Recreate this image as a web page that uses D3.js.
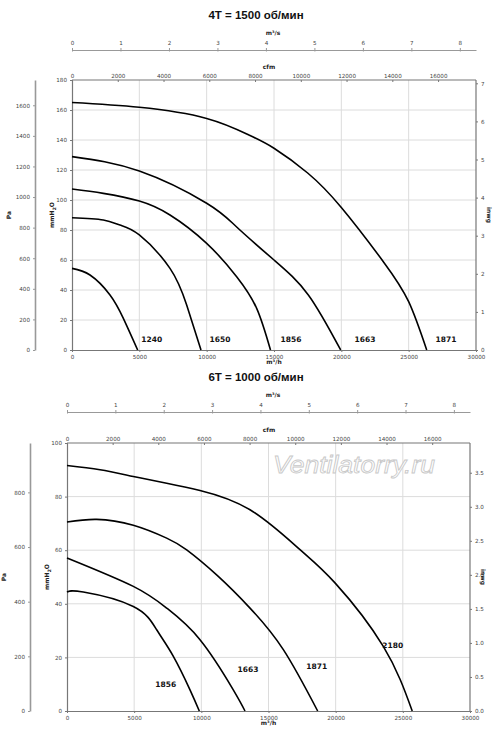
<!DOCTYPE html>
<html><head><meta charset="utf-8">
<script src="https://cdn.jsdelivr.net/npm/d3@7"></script>
<style>
html,body{margin:0;padding:0;background:#fff;}
svg{display:block;}
</style></head>
<body>
<svg id="c" width="500" height="737"></svg>
<script>
// ---------- DATA ----------
const titles = ["4T = 1500 об/мин", "6T = 1000 об/мин"];
const flowTicks = [0, 5000, 10000, 15000, 20000, 25000, 30000];
const m3sTicks = [0, 1, 2, 3, 4, 5, 6, 7, 8];
const cfmTicks = [0, 2000, 4000, 6000, 8000, 10000, 12000, 14000, 16000];

// 4T chart
const top_mmTicks = [0, 20, 40, 60, 80, 100, 120, 140, 160, 180];
const top_paTicks = [0, 200, 400, 600, 800, 1000, 1200, 1400, 1600];
const top_inwgTicks = [0, 1, 2, 3, 4, 5, 6, 7];
const top_names = ["1240", "1650", "1856", "1663", "1871"];
const top_1240 = [[0,54.4],[1337,50],[2822,36.7],[3812,21.1],[4876,0]];
const top_1650 = [[0,88.2],[2327,86.7],[3564,83.3],[5000,76.7],[7277,54.4],[8515,30],[9579,0]];
const top_1856 = [[0,107.3],[2327,104.4],[5000,99.3],[7277,90],[10000,71.1],[12228,48.9],[13713,27.8],[14740,0]];
const top_1663 = [[0,128.9],[5000,119.3],[10000,97.8],[12228,82],[15000,60],[17550,36.7],[19950,0]];
const top_1871 = [[0,165],[5000,161.8],[10000,154.4],[13220,143],[15000,134.5],[17500,118],[20000,95],[23119,58.9],[25000,32.2],[26340,0]];
const top_labelAt = [[5920,7.3],[10990,7.3],[16262,7.3],[21757,7.3],[27772,7.3]];

// 6T chart
const bot_mmTicks = [0, 20, 40, 60, 80, 100];
const bot_paTicks = [0, 200, 400, 600, 800];
const bot_inwgTicks = [0, 0.5, 1, 1.5, 2, 2.5, 3, 3.5];
const bot_names = ["1856", "1663", "1871", "2180"];
const bot_1856 = [[0,44.4],[1215,44.4],[4937,39],[6675,30.3],[7916,20.4],[9156,7.9],[9851,0]];
const bot_1663 = [[0,57.1],[4937,46.5],[7420,38.4],[9901,26.6],[12378,7.9],[13250,0]];
const bot_1871 = [[0,70.5],[2211,71.5],[4937,69.3],[7420,64.5],[8910,60.1],[11200,50.5],[13623,38.4],[16104,22.9],[18660,0]];
const bot_2180 = [[0,91.6],[2457,90],[4937,87.5],[7420,85],[9901,82.3],[13623,75.1],[17345,60.2],[19950,47.8],[23545,24.1],[25700,0]];
const bot_labelAt = [[7347,9.8],[13474,15.4],[18588,16.5],[24245,24.4]];

const PA_PER_MM = 9.80665, MM_PER_INWG = 25.4, M3H_PER_CFM = 1.69901, M3H_PER_M3S = 3600;

// ---------- DRAW ----------
const svg = d3.select("#c");
const TICKFONT = "DejaVu Sans, sans-serif";

function chart(cfg) {
  const g = svg.append("g");
  const x = d3.scaleLinear().domain([0, 30000]).range([cfg.left, cfg.right]);
  const y = d3.scaleLinear().domain([0, cfg.ymax]).range([cfg.bottom, cfg.top]);
  const yPa = d3.scaleLinear().domain([0, cfg.ymax * PA_PER_MM]).range([cfg.bottom, cfg.top]);
  const yIn = d3.scaleLinear().domain([0, cfg.ymax / MM_PER_INWG]).range([cfg.bottom, cfg.top]);
  const xCfm = d3.scaleLinear().domain([0, 30000 / M3H_PER_CFM]).range([cfg.left, cfg.right]);
  const xM3s = d3.scaleLinear().domain([0, 30000 / M3H_PER_M3S]).range([cfg.left, cfg.right]);

  // title
  g.append("text").attr("x", 256).attr("y", cfg.titleY).attr("text-anchor", "middle")
    .attr("font-family", "Liberation Sans, Arial, sans-serif").attr("font-weight", "bold")
    .attr("font-size", 11.5).attr("fill", "#111").text(cfg.title);

  // grid
  g.append("g").selectAll("line").data(flowTicks.slice(1, -1)).join("line")
    .attr("x1", d => x(d)).attr("x2", d => x(d)).attr("y1", cfg.top).attr("y2", cfg.bottom)
    .attr("stroke", "#dcdcdc").attr("stroke-width", 1);
  g.append("g").selectAll("line").data(cfg.mmTicks.slice(1, -1)).join("line")
    .attr("y1", d => y(d)).attr("y2", d => y(d)).attr("x1", cfg.left).attr("x2", cfg.right)
    .attr("stroke", "#dcdcdc").attr("stroke-width", 1);

  function styleAxis(sel, color) {
    sel.selectAll(".domain").attr("stroke", color).attr("stroke-width", 1.2);
    sel.selectAll(".tick line").attr("stroke", color);
    sel.selectAll(".tick text").attr("fill", "#444").attr("font-family", TICKFONT).attr("font-size", 5.6);
  }

  // bottom axis m3/h
  const ax = g.append("g").attr("transform", `translate(0,${cfg.bottom})`)
    .call(d3.axisBottom(x).tickValues(flowTicks).tickFormat(d3.format("d")).tickSize(2).tickSizeOuter(0));
  styleAxis(ax, "#777");
  // left axis mmH2O
  const ay = g.append("g").attr("transform", `translate(${cfg.left},0)`)
    .call(d3.axisLeft(y).tickValues(cfg.mmTicks).tickFormat(d3.format("d")).tickSize(2).tickSizeOuter(0));
  styleAxis(ay, "#777");
  // right axis inwg
  const ar = g.append("g").attr("transform", `translate(${cfg.right},0)`)
    .call(d3.axisRight(yIn).tickValues(cfg.inwgTicks).tickFormat(d3.format(cfg.inwgFmt)).tickSize(2).tickSizeOuter(0));
  styleAxis(ar, "#777");
  ar.select(".domain").attr("d", `M0,${cfg.top}V${cfg.bottom}`);
  // top axis cfm
  const at = g.append("g").attr("transform", `translate(0,${cfg.top})`)
    .call(d3.axisTop(xCfm).tickValues(cfmTicks).tickFormat(d3.format("d")).tickSize(-2).tickSizeOuter(0));
  styleAxis(at, "#777");
  at.select(".domain").attr("d", `M${cfg.left},0H${cfg.right}`);
  at.selectAll(".tick text").attr("y", -2);
  // m3/s axis
  const as = g.append("g").attr("transform", `translate(0,${cfg.m3sY})`)
    .call(d3.axisTop(xM3s).tickValues(m3sTicks).tickFormat(d3.format("d")).tickSize(2).tickSizeOuter(0));
  styleAxis(as, "#999");
  as.selectAll(".tick line").attr("y1", 1.5);
  // Pa axis
  const ap = g.append("g").attr("transform", `translate(${cfg.paX},0)`)
    .call(d3.axisLeft(yPa).tickValues(cfg.paTicks).tickFormat(d3.format("d")).tickSize(2).tickSizeOuter(0));
  styleAxis(ap, "#999");
  ap.select(".domain").attr("stroke-width", 1.6);

  // axis titles
  const lab = (xx, yy, rot) => g.append("text").attr("font-family", TICKFONT).attr("font-weight", "bold")
      .attr("font-size", 6).attr("fill", "#222").attr("text-anchor", "middle")
      .attr("transform", `translate(${xx},${yy}) rotate(${rot})`);
  const midY = (cfg.top + cfg.bottom) / 2;
  lab(cfg.paX - 24, midY, -90).text("Pa");
  const t2 = lab(cfg.left - 18, midY, -90);
  t2.append("tspan").text("mmH");
  t2.append("tspan").attr("font-size", 4.5).attr("dy", 1.5).text("2");
  t2.append("tspan").attr("dy", -1.5).text("O");
  lab(cfg.right + 11, midY, 90).text("inwg");
  lab((cfg.left + cfg.right) / 2, cfg.bottom + 14, 0).text("m³/h");
  lab(269, cfg.top - 11, 0).text("cfm");
  lab(273, cfg.m3sY - 15, 0).text("m³/s");

  // curves
  const line = d3.line().x(d => x(d[0])).y(d => y(d[1])).curve(d3.curveNatural);
  g.append("g").selectAll("path").data(cfg.series).join("path")
    .attr("d", line).attr("fill", "none").attr("stroke", "#000").attr("stroke-width", 1.6);

  g.append("g").selectAll("text").data(cfg.names).join("text")
    .attr("x", (d, i) => x(cfg.labelAt[i][0])).attr("y", (d, i) => y(cfg.labelAt[i][1]))
    .attr("dy", "0.35em").attr("text-anchor", "middle")
    .attr("font-family", TICKFONT).attr("font-weight", "bold").attr("font-size", 7.5)
    .attr("fill", "#111").text(d => d);
  return g;
}

chart({title: titles[0], titleY: 19, left: 72, right: 476, top: 80, bottom: 350, ymax: 180,
  m3sY: 50, paX: 35, mmTicks: top_mmTicks, paTicks: top_paTicks, inwgTicks: top_inwgTicks, inwgFmt: "d",
  series: [top_1240, top_1650, top_1856, top_1663, top_1871], names: top_names, labelAt: top_labelAt});

chart({title: titles[1], titleY: 381, left: 67, right: 470, top: 443, bottom: 711, ymax: 100,
  m3sY: 412, paX: 30, mmTicks: bot_mmTicks, paTicks: bot_paTicks, inwgTicks: bot_inwgTicks, inwgFmt: ".1f",
  series: [bot_1856, bot_1663, bot_1871, bot_2180], names: bot_names, labelAt: bot_labelAt});

// watermark
svg.append("text").attr("x", 354).attr("y", 473).attr("text-anchor", "middle")
  .attr("font-family", "Liberation Sans, Arial, sans-serif").attr("font-style", "italic")
  .attr("font-size", 23).attr("fill", "#fff").attr("stroke", "#c8c8c8").attr("stroke-width", 0.8)
  .attr("textLength", 162).attr("lengthAdjust", "spacingAndGlyphs")
  .text("Ventilatorry.ru");
</script>
</body></html>
